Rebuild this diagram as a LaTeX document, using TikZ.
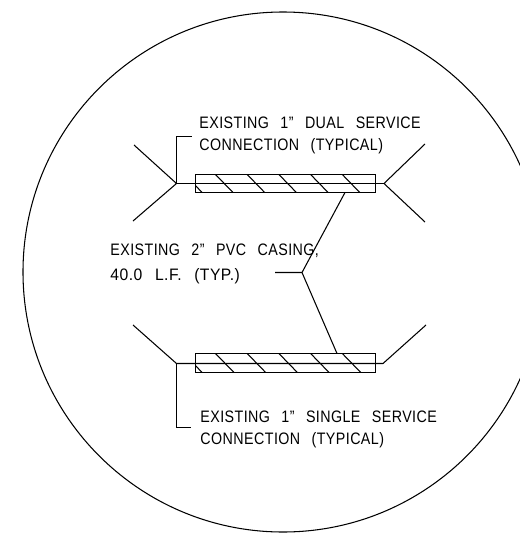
\documentclass[tikz,border=0pt]{standalone}
\usepackage{fontspec}
\setmainfont{Liberation Sans}
\newfontfamily\cadfont[LetterSpace=3,WordSpace=2.6]{Liberation Sans}
\begin{document}
\begin{tikzpicture}[x=0.025cm, y=-0.025cm, line width=0.75pt,
    every node/.style={font=\cadfont\fontsize{11.8}{11.8}\selectfont, anchor=base west, inner sep=0pt, xscale=0.86}]
    \useasboundingbox (0, 0) rectangle (520, 540);
    % detail circle
    \begin{scope}
      \clip (0, 0) rectangle (520, 540);
      \draw[] (283, 272) circle [radius=260];
    \end{scope}

    % top service
    \coordinate (topleft) at (176.5, 183.5);
    \coordinate (topright) at (384, 183.5);
    \coordinate (topleftup) at (134, 145);
    \coordinate (topleftdown) at (133, 221);
    \coordinate (toprightup) at (425, 144);
    \coordinate (toprightdown) at (425, 222);
    \draw[] (topleftup) -- (topleft) -- (topleftdown);
    \draw[] (toprightup) -- (topright) -- (toprightdown);
    \draw[] (topleft) -- (topright);

    % bottom service
    \coordinate (botleft) at (176.5, 363.5);
    \coordinate (botright) at (383, 363.5);
    \coordinate (botleftup) at (133, 325);
    \coordinate (botrightup) at (426, 325);
    \draw[] (botleftup) -- (botleft) -- (botright) -- (botrightup);

    % casings and hatching
    \draw[] (195.5, 174.5) rectangle (375.5, 192.5);
    \draw[] (195.5, 353.5) rectangle (375.5, 372.5);
    \draw[] (195.5, 185.5) -- (202, 192.5);
    \draw[] (195.5, 365.5) -- (202, 372.5);
    \foreach \x in {215.5, 247.2, 278.9, 310.6, 342.3} {
      \draw[] (\x, 174.5) -- (\x+17.5, 192.5);
      \draw[] (\x, 353.5) -- (\x+18.5, 372.5);
    }

    % labels
    \node (dual) at (199, 128) {EXISTING 1” DUAL SERVICE};
    \node (dualb) at (199, 150) {CONNECTION (TYPICAL)};
    \node (casing) at (110, 255) {EXISTING 2” PVC CASING,};
    \node[xscale=1.10] (casingb) at (110, 280) {40.0 L.F. (TYP.)};
    \node (single) at (200, 422) {EXISTING 1” SINGLE SERVICE};
    \node (singleb) at (200, 444) {CONNECTION (TYPICAL)};

    % leaders
    \coordinate (dualend) at (192, 136.5);
    \coordinate (singleend) at (191, 427.5);
    \coordinate (casingend) at (275, 272.5);
    \coordinate (casingknee) at (302, 272.5);
    \coordinate (casingtop) at (345, 192.5);
    \coordinate (casingbot) at (337, 353.5);
    \draw[] (topleft) |- (dualend);
    \draw[] (botleft) |- (singleend);
    \draw[] (casingend) -- (casingknee) -- (casingtop);
    \draw[] (casingknee) -- (casingbot);
\end{tikzpicture}
\end{document}
